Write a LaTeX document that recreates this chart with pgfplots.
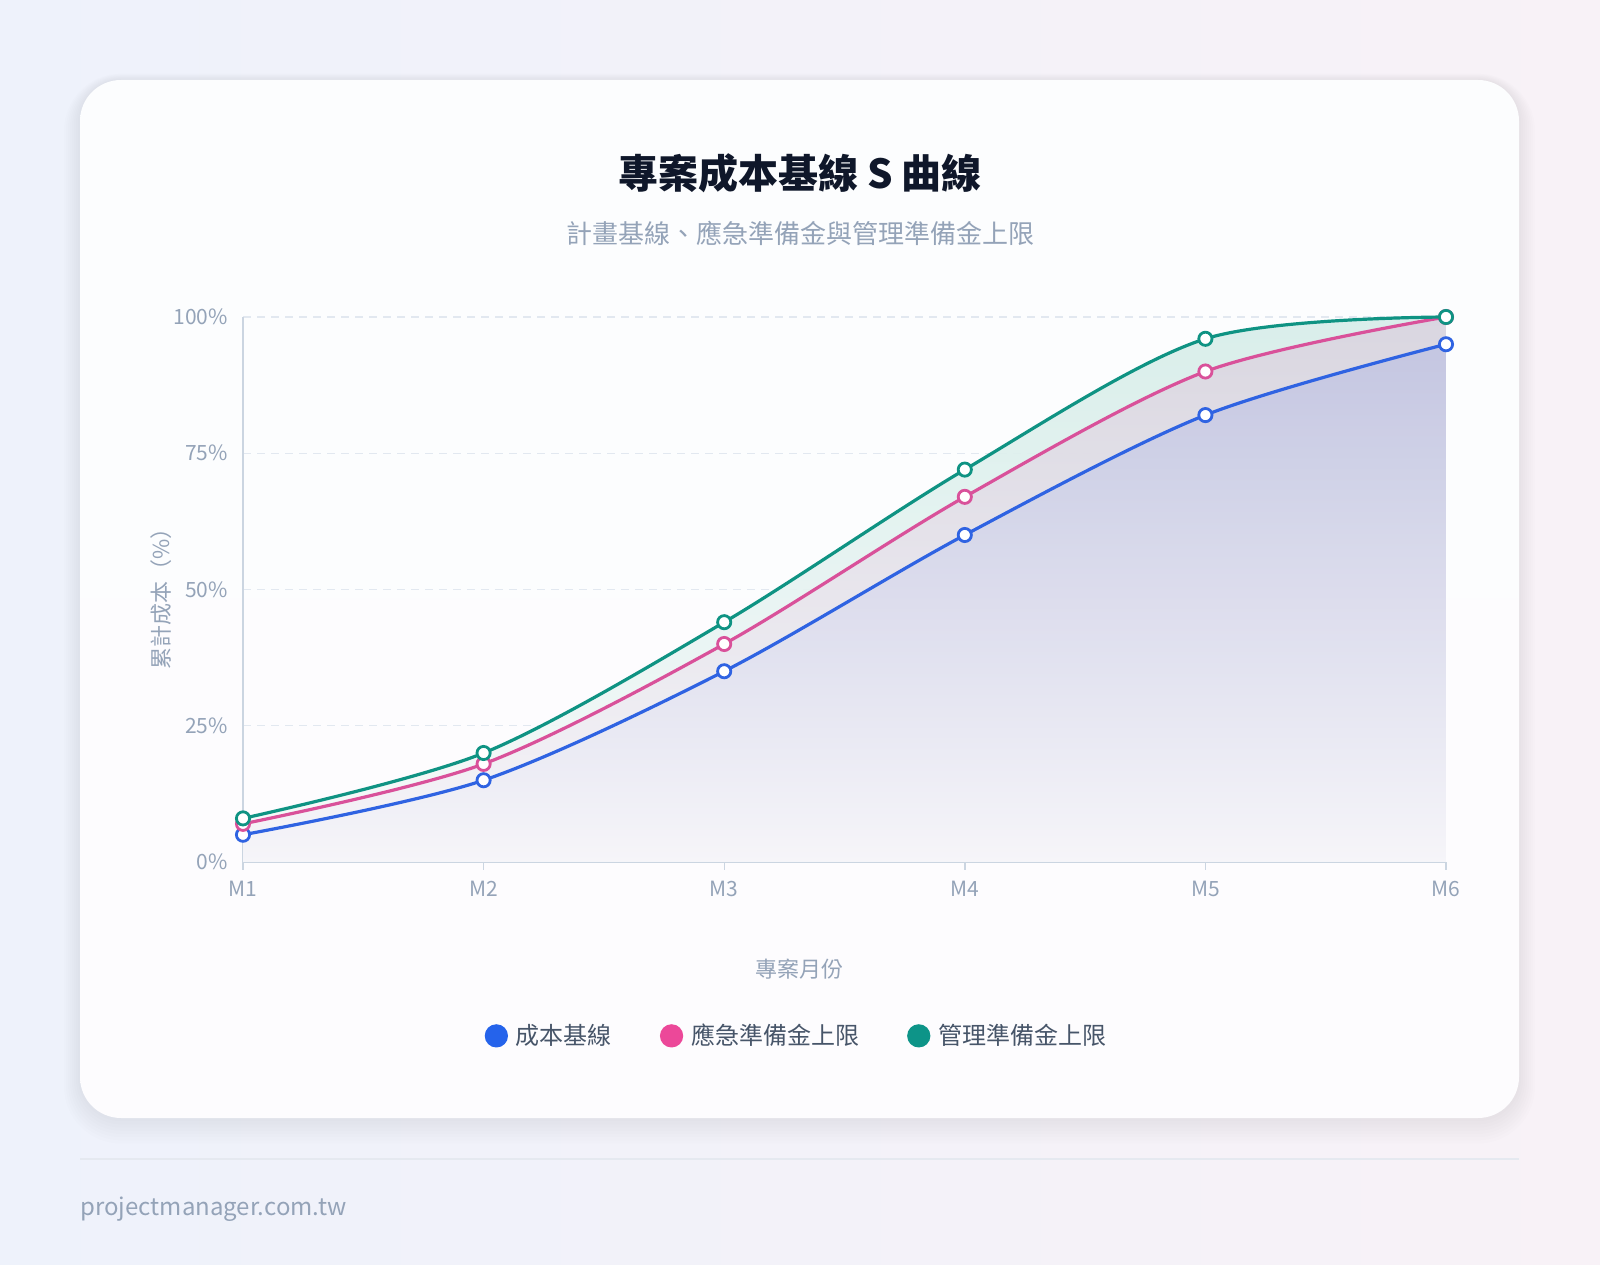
\documentclass[border=0pt]{standalone}
\usepackage{pgfplots}
\pgfplotsset{compat=1.18}
\usepackage{fontspec}
\setmainfont{Noto Sans CJK TC}

\definecolor{bgL}{HTML}{EEF2FB}
\definecolor{bgR}{HTML}{F8F2F7}
\definecolor{cardT}{HTML}{FCFDFE}
\definecolor{cardB}{HTML}{FDFCFE}
\definecolor{titlec}{HTML}{0F172A}
\definecolor{subc}{HTML}{94A3B8}
\definecolor{tickc}{HTML}{94A3B8}
\definecolor{legc}{HTML}{475569}
\definecolor{axisc}{HTML}{CBD5E1}
\definecolor{gridc}{HTML}{E2E8F0}
\definecolor{linec}{HTML}{E5E9F0}
\definecolor{bluec}{HTML}{2563EB}
\definecolor{pinkc}{HTML}{EC4899}
\definecolor{tealc}{HTML}{0D9488}
\definecolor{blueline}{HTML}{2F63E2}
\definecolor{pinkline}{HTML}{D9519A}
\definecolor{tealline}{HTML}{0F9383}
\definecolor{tealfillT}{RGB}{214,237,233}
\definecolor{tealfillB}{RGB}{246,250,250}
\definecolor{pinkfillT}{RGB}{218,212,224}
\definecolor{pinkfillB}{RGB}{246,245,249}
\definecolor{bluefillT}{RGB}{194,197,226}
\definecolor{bluefillB}{RGB}{246,245,250}

\begin{document}
\begin{tikzpicture}
% page and card
\shade[left color=bgL, right color=bgR] (0,0) rectangle (800pt,632pt);
\foreach \s in {1,2,...,8}{
  \fill[black!60!blue, opacity=0.006, rounded corners=20.5pt+\s pt]
    (40pt-\s pt,73pt-1.6*\s pt) rectangle (759.5pt+\s pt,592pt+0.4*\s pt);
}
\shade[top color=cardT, bottom color=cardB, rounded corners=20.5pt] (40pt,73pt) rectangle (759.5pt,592pt);

\node[font=\fontsize{20}{24}\selectfont\bfseries, text=titlec] at (400pt,545.25pt) {專案成本基線 S 曲線};
\node[font=\fontsize{13}{16}\selectfont, text=subc] at (400pt,515.5pt) {計畫基線、應急準備金與管理準備金上限};

\draw[linec, line width=0.6pt] (40pt,52.5pt) -- (759.5pt,52.5pt);
\node[anchor=west, font=\fontsize{12}{14}\selectfont, text=subc, inner sep=0pt] at (40pt,27.5pt) {projectmanager.com.tw};

\begin{axis}[
    at={(121.5pt,201pt)}, anchor=south west,
    width=601.5pt, height=272.5pt, scale only axis,
    xmin=0, xmax=5, ymin=0, ymax=100,
    clip=false,
    axis x line*=bottom, axis y line*=left,
    x axis line style={draw=axisc, line width=1pt, -},
    y axis line style={draw=axisc, line width=0.7pt, -},
    xtick={0,1,2,3,4,5},
    xticklabels={M1,M2,M3,M4,M5,M6},
    ytick={0,25,50,75,100},
    yticklabels={0\%,25\%,50\%,75\%,100\%},
    tick align=outside, major tick length=4pt,
    xtick style={draw=axisc, line width=0.7pt},
    ytick style={draw=none},
    ymajorgrids,
    grid style={draw=gridc, line width=0.7pt, dash pattern=on 4pt off 3pt},
    tick label style={font=\fontsize{10.5}{12}\selectfont, text=tickc},
    xticklabel style={yshift=-2pt},
    /pgf/number format/assume math mode=true,
    xlabel={專案月份},
    ylabel={累計成本（\%）},
    label style={font=\fontsize{11}{13}\selectfont, text=tickc},
    xlabel style={at={(axis description cs:0.463,-0.196)}, anchor=center},
    ylabel style={at={(axis description cs:-0.068,0.492)}, anchor=center},
    legend columns=3,
    legend style={at={(axis description cs:0.461,-0.319)}, anchor=center,
        draw=none, fill=none, text=legc,
        font=\fontsize{12}{14}\selectfont,
        /tikz/every odd column/.append style={column sep=2pt},
        /tikz/every even column/.append style={column sep=22pt}},
]

% filled areas under each curve
\addplot[forget plot, draw=none, smooth, fill opacity=0.9,
    top color=tealfillT, bottom color=tealfillB]
    coordinates {(0,8) (1,20) (2,44) (3,72) (4,96) (5,100)} \closedcycle;
\addplot[forget plot, draw=none, smooth, fill opacity=0.9,
    top color=pinkfillT, bottom color=pinkfillB]
    coordinates {(0,7) (1,18) (2,40) (3,67) (4,90) (5,100)} \closedcycle;
\addplot[forget plot, draw=none, smooth, fill opacity=0.9,
    top color=bluefillT, bottom color=bluefillB]
    coordinates {(0,5) (1,15) (2,35) (3,60) (4,82) (5,95)} \closedcycle;

% curves
\addplot[blueline, line width=1.6pt, smooth, mark=*, mark size=3.3pt,
    mark options={fill=white, draw=blueline, line width=1.4pt},
    legend image code/.code={\fill[bluec] (5pt,0pt) circle (5pt);}]
    coordinates {(0,5) (1,15) (2,35) (3,60) (4,82) (5,95)};
\addlegendentry{成本基線}

\addplot[pinkline, line width=1.6pt, smooth, mark=*, mark size=3.3pt,
    mark options={fill=white, draw=pinkline, line width=1.4pt},
    legend image code/.code={\fill[pinkc] (5pt,0pt) circle (5pt);}]
    coordinates {(0,7) (1,18) (2,40) (3,67) (4,90) (5,100)};
\addlegendentry{應急準備金上限}

\addplot[tealline, line width=1.6pt, smooth, mark=*, mark size=3.3pt,
    mark options={fill=white, draw=tealline, line width=1.4pt},
    legend image code/.code={\fill[tealc] (5pt,0pt) circle (5pt);}]
    coordinates {(0,8) (1,20) (2,44) (3,72) (4,96) (5,100)};
\addlegendentry{管理準備金上限}

\end{axis}
\pgfresetboundingbox
\path (0,0) rectangle (800pt,632pt);
\end{tikzpicture}
\end{document}
